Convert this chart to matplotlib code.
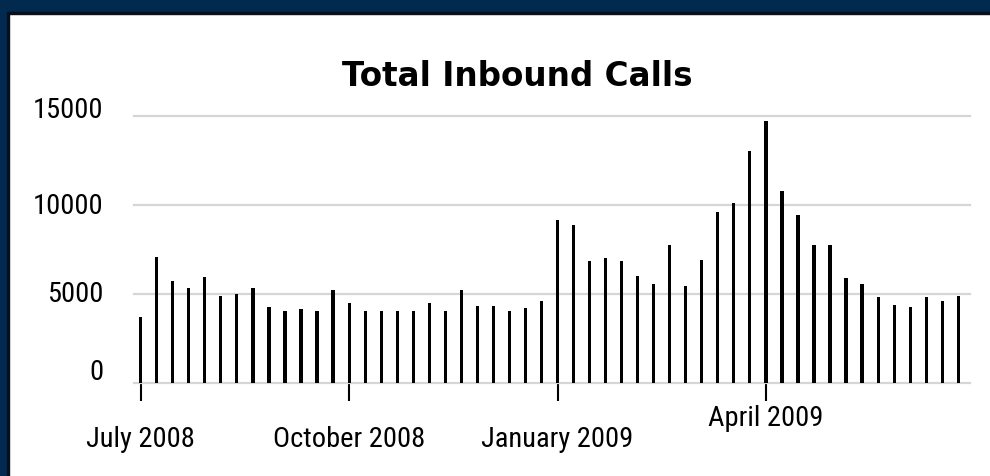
import matplotlib
matplotlib.use("Agg")
import matplotlib.pyplot as plt
import matplotlib.transforms as mtransforms
from matplotlib.patches import Rectangle

# weekly totals, July 2008 .. June 2009
weeks = list(range(52))
calls = [3740, 7070, 5760, 5370, 5950, 4900, 5030, 5370, 4300, 4040,
         4170, 4040, 5240, 4510, 4040, 4040, 4040, 4040, 4510, 4040,
         5240, 4320, 4320, 4040, 4210, 4620, 9180, 8880, 6880, 7030,
         6880, 6040, 5590, 7750, 5450, 6940, 9610, 10130, 13040, 14720,
         10790, 9430, 7750, 7750, 5920, 5600, 4870, 4420, 4310, 4870,
         4630, 4910]

tick_weeks = [0, 13, 26, 39]
tick_labels = ["July 2008", "October 2008", "January 2009", "April 2009"]
y_ticks = [0, 5000, 10000, 15000]
y_labels = ["0", "5000", "10000", "15000"]

narrow = ["Liberation Sans Narrow", "Roboto Condensed", "DejaVu Sans"]

fig = plt.figure(figsize=(9.9, 4.76), dpi=100)
fig.patch.set_facecolor("white")

# navy frame on top and left
navy = "#022a4f"
fig.patches.append(Rectangle((0, 1 - 12 / 476), 1, 12 / 476, transform=fig.transFigure,
                             color=navy, zorder=0))
fig.patches.append(Rectangle((0, 1 - 14 / 476), 1, 2 / 476, transform=fig.transFigure,
                             color="#0a0f18", zorder=0))
fig.patches.append(Rectangle((0, 0), 7 / 990, 1, transform=fig.transFigure,
                             color=navy, zorder=0))
fig.patches.append(Rectangle((7 / 990, 0), 2 / 990, 1 - 12 / 476, transform=fig.transFigure,
                             color="#0a0f18", zorder=0))

ax = fig.add_axes([134.3 / 990, 0.19433, 835.2 / 990, 0.5626])
ax.bar(weeks, calls, width=0.2, color="black", zorder=3)

ax.set_xlim(-0.4, 51.7)
ax.set_ylim(0, 15000)
ax.set_yticks(y_ticks)
ax.set_yticklabels(y_labels, family=narrow, fontsize=20.5)
ax.set_xticks(tick_weeks)
ax.set_xticklabels(tick_labels, family=narrow, fontsize=20.5)

ax.tick_params(axis="y", length=0, pad=22)
ax.tick_params(axis="x", length=12.6, width=1.5, color="black", pad=18)

for s in ax.spines.values():
    s.set_visible(False)

ax.yaxis.grid(True, color="#d6d6d6", linewidth=1.6)
ax.set_axisbelow(True)
for gl in ax.get_ygridlines():
    gl.set_clip_on(False)

# small vertical nudges seen in the original layout (pixels up)
y_nudge = [14, 3, 1, 8]
for lab, dy in zip(ax.get_yticklabels(), y_nudge):
    off = mtransforms.ScaledTranslation(0, dy / 100, fig.dpi_scale_trans)
    lab.set_transform(lab.get_transform() + off)

x_nudge = [0, 0, 0, 21]
for lab, dy in zip(ax.get_xticklabels(), x_nudge):
    off = mtransforms.ScaledTranslation(0, dy / 100, fig.dpi_scale_trans)
    lab.set_transform(lab.get_transform() + off)

fig.text(517 / 990, 1 - 77 / 476, "Total Inbound Calls", ha="center", va="center",
         fontsize=23.5, fontweight="bold", family="DejaVu Sans")

fig.savefig("out.png", dpi=100)
